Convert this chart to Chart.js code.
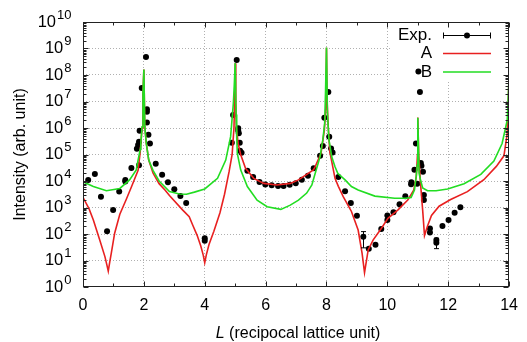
<!DOCTYPE html>
<html>
<head>
<meta charset="utf-8">
<script src="https://cdn.jsdelivr.net/npm/chart.js@4.4.0/dist/chart.umd.min.js"></script>
<style>
  html, body { margin: 0; padding: 0; background: #fff; }
  #wrap { width: 527px; height: 342px; }
</style>
</head>
<body>
<div id="wrap"><canvas id="chart"></canvas></div>
<script>
// experimental points (L, intensity)
const expL = [0.17, 0.39, 0.59, 0.79, 0.99, 1.19, 1.39, 1.39, 1.59, 1.77, 1.81, 1.84, 1.84, 1.86, 1.93, 2.07, 2.10, 2.10, 2.10, 2.15, 2.20, 2.39, 2.60, 2.79, 3.00, 3.20, 3.39,
  4.00, 4.00, 4.89, 4.93, 5.05, 5.10, 5.10, 5.12, 5.15, 5.16, 5.21, 5.40, 5.59, 5.80, 5.99, 6.20, 6.41, 6.59, 6.79, 6.99, 7.19, 7.39, 7.58, 7.79, 7.88, 7.93,
  8.06, 8.09, 8.15, 8.20, 8.39, 8.61, 8.80, 9.00, 9.21, 9.39, 9.61, 9.80, 10.00, 10.00, 10.20, 10.40, 10.59, 10.78, 10.79, 10.89, 10.94, 10.98,
  11.02, 11.07, 11.10, 11.12, 11.17, 11.20, 11.20, 11.40, 11.40, 11.61, 11.61, 11.81, 12.01, 12.21, 12.40];
const expI = [11000, 18200, 2570, 126, 813, 3980, 11000, 9550, 30900, 1.66e5, 2.29e5, 38900, 3.02e5, 7.8e5, 3.2e7, 4.8e8, 5.1e6, 4.1e6, 1.6e6, 5.6e5, 2.6e5, 44700, 17400, 8900, 4900, 2690, 1480,
  69, 56, 2.8e5, 3.1e6, 3.7e8, 9.8e5, 7.8e5, 6.3e5, 2.8e5, 1.38e5, 1.17e5, 24500, 14100, 9100, 7400, 6900, 6500, 6500, 7200, 8300, 11200, 15800, 30200, 89000, 2.1e5, 2.45e6,
  2.3e7, 4.7e5, 1.7e5, 1.2e5, 14100, 4070, 1480, 490, 78, 28, 39, 155, 340, 500, 660, 1320, 2630, 7600, 8900, 26300, 2.6e5, 7900,
  1.35e8, 2.3e7, 47900, 38000, 22400, 2950, 1900, 162, 115, 59, 47, 200, 340, 630, 1020];

// error bars shown on the experimental data
const errL = [9.21, 11.61];
const errLo = [30, 28];
const errHi = [123, 69];

// model A (red)
const aL = [0, 0.2, 0.34, 0.55, 0.72, 0.78, 0.83, 0.88, 0.93, 1.04, 1.21, 1.42, 1.6, 1.81, 1.88, 1.94, 1.97, 2.0, 2.03, 2.08,
  2.16, 2.3, 2.5, 2.7, 2.84, 3.27, 3.49, 3.6, 3.75, 3.87, 3.95, 4.0, 4.05, 4.14, 4.3, 4.5, 4.65, 4.8, 4.9, 4.96,
  4.98, 5.0, 5.02, 5.04, 5.1, 5.18, 5.34, 5.61, 5.94, 6.37, 6.81, 7.08, 7.57, 7.63, 7.82, 7.93, 7.98, 8.0, 8.02, 8.06,
  8.11, 8.17, 8.28, 8.39, 8.55, 8.7, 8.82, 9.04, 9.17, 9.25, 9.37, 9.53, 9.8, 10.02, 10.35, 10.67, 10.87, 10.95, 10.99, 11.0,
  11.03, 11.09, 11.16, 11.22, 11.32, 11.45, 11.7, 12.08, 12.63, 13.17, 13.58, 13.83, 13.94, 14.0];
const aI = [2400, 890, 340, 59, 14, 7.1, 4.0, 8.9, 19, 107, 560, 2000, 6300, 25100, 1.26e5, 1e6, 2e7, 1.6e8, 1.12e6, 2.63e5,
  61700, 20000, 7940, 4470, 2820, 813, 447, 224, 89, 35, 16, 8.3, 16, 40, 126, 631, 3160, 22400, 1e5, 1e6,
  1e7, 2.8e8, 1e7, 1e6, 2.5e5, 1e5, 30200, 12600, 8130, 7080, 8130, 11000, 26300, 34700, 1.1e5, 8.3e5, 6.3e6, 1.07e9, 1e7, 1e6,
  1.26e5, 56200, 12600, 6300, 2570, 1260, 708, 141, 18.6, 3.5, 25, 59, 162, 389, 813, 1900, 4570, 14500, 1e5, 2.5e6,
  1e5, 7940, 794, 87, 200, 500, 1120, 2000, 3980, 11200, 35500, 89000, 6.3e5, 1e8];

// model B (green)
const bL = [0, 0.34, 0.77, 1.21, 1.53, 1.75, 1.81, 1.88, 1.9, 1.94, 1.97, 2.0, 2.03, 2.08, 2.16, 2.3, 2.5, 2.84, 3.17, 3.4,
  3.66, 4.0, 4.42, 4.69, 4.85, 4.94, 4.97, 5.0, 5.03, 5.05, 5.07, 5.18, 5.4, 5.72, 6.05, 6.5, 6.81, 7.08, 7.35, 7.52,
  7.63, 7.79, 7.88, 7.94, 7.97, 8.0, 8.03, 8.08, 8.12, 8.17, 8.28, 8.37, 8.61, 8.82, 9.04, 9.59, 10.24, 10.6, 10.78, 10.89,
  10.95, 10.98, 11.0, 11.04, 11.09, 11.16, 11.32, 11.6, 11.98, 12.52, 13.07, 13.5, 13.77, 13.94, 14.0];
const bI = [9330, 6170, 4270, 5250, 10960, 26300, 61700, 1.58e5, 2.63e5, 1.12e6, 2.04e7, 1.62e8, 1.12e6, 2.63e5, 61700, 25100, 1e4, 3980, 3240, 3160,
  3800, 5010, 12600, 61700, 4.7e5, 8.5e6, 4e7, 2.8e8, 3.2e6, 5e5, 1.1e5, 26300, 6170, 1900, 1070, 850, 1230, 1900, 3500, 7080,
  19500, 83200, 3.55e5, 1.5e6, 2.7e7, 1.1e9, 4e6, 3.55e5, 2e5, 83200, 34700, 19500, 11000, 6170, 4570, 2690, 2240, 2240, 2400, 4570,
  15800, 39800, 2.45e6, 20000, 11000, 5500, 4270, 4270, 5010, 7940, 17800, 56200, 2.6e5, 2e6, 1e8];

const xTicks = [0, 2, 4, 6, 8, 10, 12, 14];
const yExps = [0, 1, 2, 3, 4, 5, 6, 7, 8, 9, 10];

const FONT = '"Liberation Sans", Arial, Helvetica, sans-serif';
const RED = '#e82020';
const GREEN = '#22dd22';

const toXY = (xs, ys) => xs.map((x, i) => ({ x: x, y: ys[i] }));

const gnuplotLook = {
  id: 'gnuplotLook',
  beforeDatasetsDraw(chart) {
    const { ctx, chartArea: a } = chart;
    ctx.save();
    // key area hides the grid
    ctx.fillStyle = '#fff';
    ctx.fillRect(390, a.top + 1, a.right - 391, 80 - a.top);

    ctx.font = '17px ' + FONT;
    ctx.fillStyle = '#000';
    ctx.textAlign = 'right';
    ctx.textBaseline = 'middle';
    const rows = [35, 53.5, 72];
    ctx.fillText('Exp.', 432, rows[0]);
    ctx.fillText('A', 432, rows[1]);
    ctx.fillText('B', 432, rows[2]);

    const x0 = 443, x1 = 491;
    ctx.strokeStyle = '#000';
    ctx.lineWidth = 1;
    ctx.beginPath();
    ctx.moveTo(x0, rows[0] + 0.5); ctx.lineTo(x1, rows[0] + 0.5);
    ctx.moveTo(x0 + 0.5, rows[0] - 2.5); ctx.lineTo(x0 + 0.5, rows[0] + 3.5);
    ctx.moveTo(x1 - 0.5, rows[0] - 2.5); ctx.lineTo(x1 - 0.5, rows[0] + 3.5);
    ctx.stroke();
    ctx.beginPath();
    ctx.arc((x0 + x1) / 2, rows[0] + 0.5, 3, 0, Math.PI * 2);
    ctx.fill();

    ctx.lineWidth = 1.5;
    ctx.strokeStyle = RED;
    ctx.beginPath(); ctx.moveTo(x0, rows[1]); ctx.lineTo(x1, rows[1]); ctx.stroke();
    ctx.strokeStyle = GREEN;
    ctx.beginPath(); ctx.moveTo(x0, rows[2]); ctx.lineTo(x1, rows[2]); ctx.stroke();
    ctx.restore();
  },
  afterDatasetsDraw(chart) {
    const { ctx, scales: { x, y } } = chart;
    ctx.save();
    ctx.strokeStyle = '#000';
    ctx.lineWidth = 1;
    errL.forEach((l, i) => {
      const px = Math.round(x.getPixelForValue(l)) + 0.5;
      const lo = y.getPixelForValue(errLo[i]);
      const hi = y.getPixelForValue(errHi[i]);
      ctx.beginPath();
      ctx.moveTo(px, lo); ctx.lineTo(px, hi);
      ctx.moveTo(px - 2.5, lo); ctx.lineTo(px + 2.5, lo);
      ctx.moveTo(px - 2.5, hi); ctx.lineTo(px + 2.5, hi);
      ctx.stroke();
    });
    ctx.restore();
  },
  afterDraw(chart) {
    const { ctx, chartArea: a, scales: { x, y } } = chart;
    const L = Math.round(a.left) + 0.5, R = Math.round(a.right) - 0.5;
    const T = Math.round(a.top) + 0.5, B = Math.round(a.bottom) - 0.5;
    ctx.save();
    ctx.strokeStyle = '#222';
    ctx.lineWidth = 1;
    ctx.strokeRect(L, T, R - L, B - T);

    // inward tick marks
    ctx.beginPath();
    for (let v = 0; v <= 14; v++) {
      const px = Math.round(x.getPixelForValue(v)) + 0.5;
      const len = v % 2 === 0 ? 5 : 3;
      ctx.moveTo(px, B); ctx.lineTo(px, B - len);
      ctx.moveTo(px, T); ctx.lineTo(px, T + len);
    }
    yExps.forEach(e => {
      for (let m = 1; m <= 9; m++) {
        if (e === 10 && m > 1) break;
        const py = Math.round(y.getPixelForValue(m * Math.pow(10, e))) + 0.5;
        const len = m === 1 ? 5 : 3;
        ctx.moveTo(L, py); ctx.lineTo(L + len, py);
        ctx.moveTo(R, py); ctx.lineTo(R - len, py);
      }
    });
    ctx.stroke();

    // y tick labels 10^n
    ctx.fillStyle = '#000';
    ctx.textBaseline = 'middle';
    yExps.forEach(e => {
      const py = y.getPixelForValue(Math.pow(10, e));
      ctx.font = '13px ' + FONT;
      ctx.textAlign = 'right';
      const ex = String(e);
      const ew = ctx.measureText(ex).width;
      ctx.fillText(ex, 71.5, py - 7);
      ctx.font = '16.5px ' + FONT;
      ctx.fillText('10', 71.5 - ew - 1, py);
    });

    // axis titles
    ctx.textAlign = 'left';
    ctx.textBaseline = 'alphabetic';
    ctx.font = 'italic 16px ' + FONT;
    const lw = ctx.measureText('L').width;
    ctx.font = '16px ' + FONT;
    const rest = ' (recipocal lattice unit)';
    const rw = ctx.measureText(rest).width;
    const sx = 298 - (lw + rw) / 2;
    ctx.font = 'italic 16px ' + FONT;
    ctx.fillText('L', sx, 338);
    ctx.font = '16px ' + FONT;
    ctx.fillText(rest, sx + lw, 338);

    ctx.translate(25, (a.top + a.bottom) / 2);
    ctx.rotate(-Math.PI / 2);
    ctx.textAlign = 'center';
    ctx.fillText('Intensity (arb. unit)', 0, 0);
    ctx.restore();
  }
};

new Chart(document.getElementById('chart'), {
  type: 'scatter',
  data: {
    datasets: [
      {
        label: 'Exp.',
        data: toXY(expL, expI),
        backgroundColor: '#000',
        borderWidth: 0,
        pointRadius: 3,
        order: 3
      },
      {
        label: 'A',
        type: 'line',
        data: toXY(aL, aI),
        borderColor: RED,
        borderWidth: 1.6,
        pointRadius: 0,
        tension: 0,
        fill: false,
        order: 2
      },
      {
        label: 'B',
        type: 'line',
        data: toXY(bL, bI),
        borderColor: GREEN,
        borderWidth: 1.6,
        pointRadius: 0,
        tension: 0,
        fill: false,
        order: 1
      }
    ]
  },
  options: {
    responsive: true,
    maintainAspectRatio: false,
    animation: false,
    devicePixelRatio: 1,
    layout: { padding: { left: 0, right: 15, top: 22, bottom: 0 } },
    plugins: {
      legend: { display: false },
      tooltip: { enabled: false }
    },
    scales: {
      x: {
        type: 'linear',
        min: 0,
        max: 14,
        afterBuildTicks: scale => { scale.ticks = xTicks.map(v => ({ value: v })); },
        afterFit: scale => { scale.height = 55; },
        ticks: {
          color: '#000',
          font: { family: FONT, size: 16 },
          padding: 9,
          maxRotation: 0,
          autoSkip: false
        },
        grid: {
          drawTicks: false,
          color: c => (c.tick && c.tick.value > 0 && c.tick.value < 14) ? '#b0b0b0' : 'rgba(0,0,0,0)',
          lineWidth: 1
        },
        border: { display: false, dash: [1, 2] }
      },
      y: {
        type: 'logarithmic',
        min: 1,
        max: 1e10,
        afterBuildTicks: scale => { scale.ticks = yExps.map(e => ({ value: Math.pow(10, e) })); },
        afterFit: scale => { scale.width = 83; },
        ticks: { callback: () => '', padding: 0 },
        grid: {
          drawTicks: false,
          color: c => (c.tick && c.tick.value > 1 && c.tick.value < 1e10) ? '#b0b0b0' : 'rgba(0,0,0,0)',
          lineWidth: 1
        },
        border: { display: false, dash: [1, 2] }
      }
    }
  },
  plugins: [gnuplotLook]
});
</script>
</body>
</html>
